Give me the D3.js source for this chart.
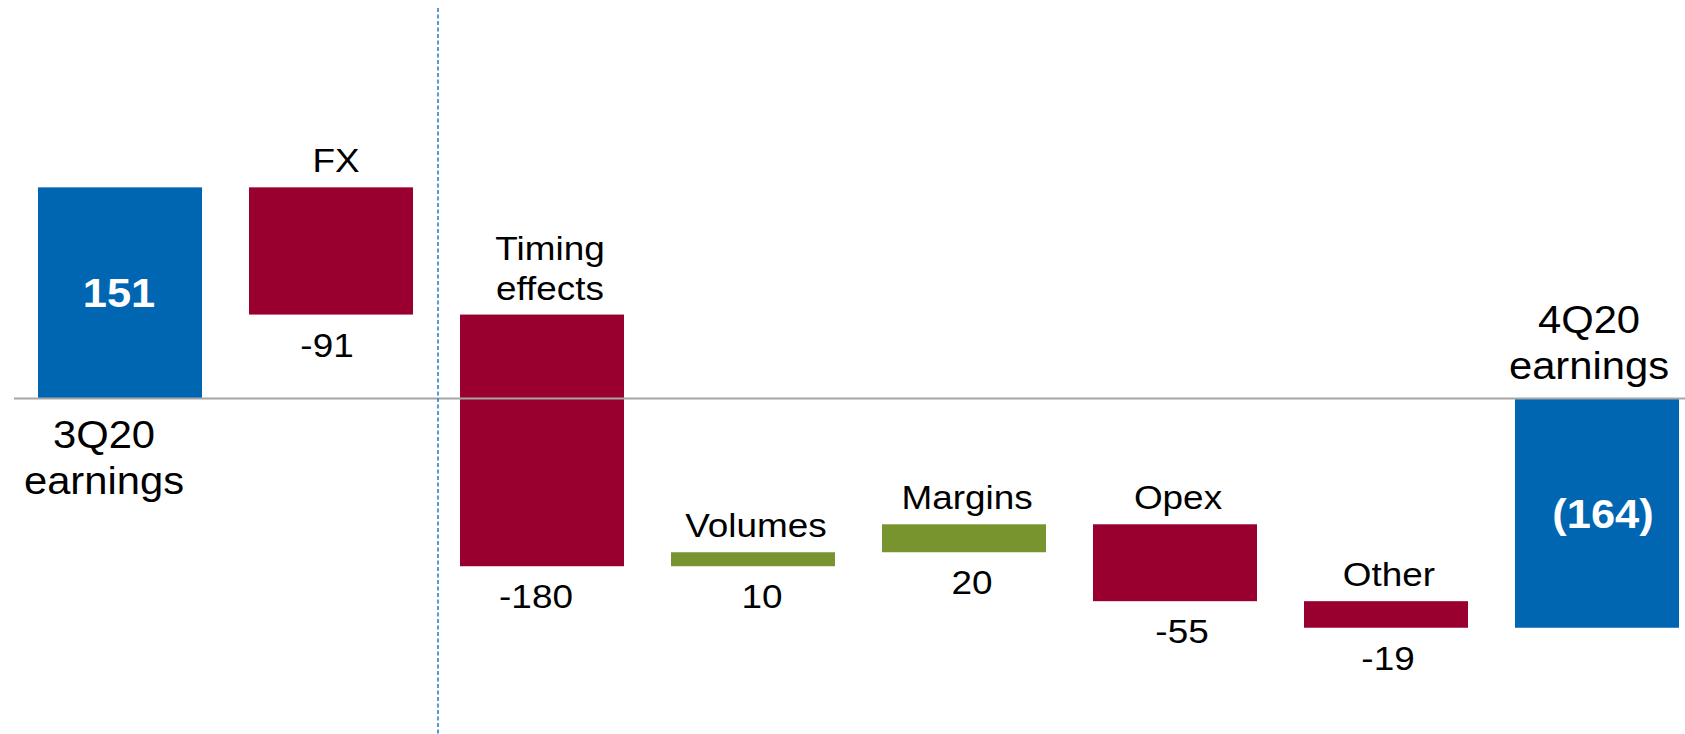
<!DOCTYPE html>
<html>
<head>
<meta charset="utf-8">
<script src="https://cdn.jsdelivr.net/npm/d3@7"></script>
<style>
  html, body { margin: 0; padding: 0; background: #fff; }
  #chart { width: 1685px; height: 734px; }
  text { font-family: "Liberation Sans", Arial, sans-serif; }
</style>
</head>
<body>
<div id="chart"></div>
<script>
const categories = ["3Q20 earnings", "FX", "Timing effects", "Volumes", "Margins", "Opex", "Other", "4Q20 earnings"];
const labelLines = [["3Q20", "earnings"], ["FX"], ["Timing", "effects"], ["Volumes"], ["Margins"], ["Opex"], ["Other"], ["4Q20", "earnings"]];
const values = [151, -91, -180, 10, 20, -55, -19, -164];
const kinds = ["total", "delta", "delta", "delta", "delta", "delta", "delta", "total"];
const valueLabels = ["151", "-91", "-180", "10", "20", "-55", "-19", "(164)"];

const W = 1685, H = 734;
const BLUE = "#0066b2", RED = "#990030", GREEN = "#78942f";
const STRETCH = 1.085;
// hand placed label nudges (px), as in the original slide
const catNudge = [-16, 2, 5, 0, 0, 0, 0, -8];
const valNudge = [-1, -4, -6, 9, 8, 7, 2, 6];

// build waterfall steps
let run = 0;
const steps = categories.map((c, i) => {
  let y0, y1;
  if (kinds[i] === "total") { y0 = 0; y1 = values[i]; run = values[i]; }
  else { y0 = run; y1 = run + values[i]; run = y1; }
  return { i, cat: c, lines: labelLines[i], v: values[i], kind: kinds[i], y0, y1, label: valueLabels[i] };
});

const svg = d3.select("#chart").append("svg").attr("width", W).attr("height", H);

const x = d3.scaleBand().domain(categories).range([38, 1679]).paddingInner(0.2227).paddingOuter(0);
const y = d3.scaleLinear().domain([-240, 285]).range([H, 0]);

const fill = d => d.kind === "total" ? BLUE : (d.v < 0 ? RED : GREEN);

svg.append("g").selectAll("rect")
  .data(steps)
  .join("rect")
  .attr("x", d => x(d.cat))
  .attr("width", x.bandwidth())
  .attr("y", d => y(Math.max(d.y0, d.y1)))
  .attr("height", d => Math.abs(y(d.y0) - y(d.y1)))
  .attr("fill", fill);

// zero line
svg.append("line")
  .attr("x1", 14).attr("x2", W)
  .attr("y1", y(0)).attr("y2", y(0))
  .attr("stroke", "#a6a6a6").attr("stroke-width", 2);

// dashed separator between FX and Timing effects
const sepX = (x(categories[1]) + x.bandwidth() + x(categories[2])) / 2 + 1.5;
svg.append("line")
  .attr("x1", sepX).attr("x2", sepX)
  .attr("y1", 8).attr("y2", H)
  .attr("stroke", "#2f80d0").attr("stroke-width", 1.6)
  .attr("stroke-dasharray", "4,2.5");

function putText(g, tx, ty, str, size, weight, color) {
  g.append("text")
    .attr("transform", `translate(${tx},${ty}) scale(${STRETCH},1)`)
    .attr("text-anchor", "middle")
    .attr("font-size", size)
    .attr("font-weight", weight)
    .attr("fill", color)
    .text(str);
}

const labels = svg.append("g");
steps.forEach(d => {
  const cx = x(d.cat) + x.bandwidth() / 2;
  if (d.kind === "total") {
    // value inside bar
    const mid = (y(d.y0) + y(d.y1)) / 2;
    putText(labels, cx + valNudge[d.i], mid + 14.5, d.label, 40, "bold", "#fff");
    // category label on the far side of the zero line
    const lh = 46;
    if (d.v > 0) {
      d.lines.forEach((ln, k) => putText(labels, cx + catNudge[d.i], y(0) + 50 + k * lh, ln, 38.5, "normal", "#000"));
    } else {
      const n = d.lines.length;
      d.lines.forEach((ln, k) => putText(labels, cx + catNudge[d.i], y(0) - 19 - (n - 1 - k) * lh, ln, 38.5, "normal", "#000"));
    }
  } else {
    const top = y(Math.max(d.y0, d.y1));
    const bot = y(Math.min(d.y0, d.y1));
    const lh = 40;
    const n = d.lines.length;
    d.lines.forEach((ln, k) => putText(labels, cx + 3 + catNudge[d.i], top - 15 - (n - 1 - k) * lh, ln, 34, "normal", "#000"));
    putText(labels, cx + valNudge[d.i], bot + 42, d.label, 34, "normal", "#000");
  }
});
</script>
</body>
</html>
